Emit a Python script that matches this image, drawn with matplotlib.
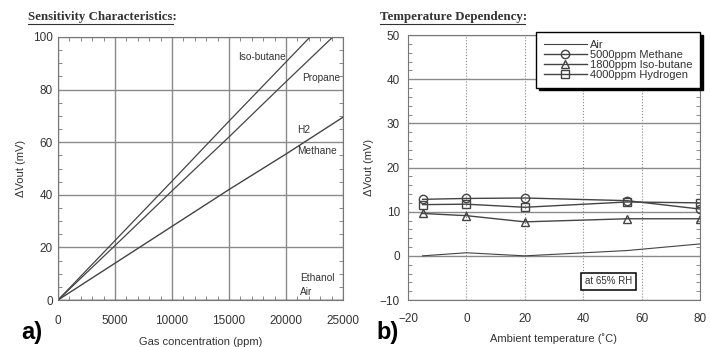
"""
Sensitivity characteristics and temperature dependency of the gas sensor.
Saves out.png
"""

import matplotlib
matplotlib.use("Agg")
import matplotlib.pyplot as plt
from matplotlib.lines import Line2D
from matplotlib.ticker import MultipleLocator

plt.rcParams['font.family'] = ['Liberation Sans', 'DejaVu Sans']

# a) sensitivity vs gas concentration
conc = [0, 5000, 10000, 15000, 20000, 25000]                 # ppm
isobutane = [0, 22.6, 45.2, 68.0, 90.5, 113.0]               # mV
propane = [0, 20.7, 41.5, 62.0, 83.0, 103.7]
methane = [0, 14.0, 28.0, 42.0, 55.5, 69.5]
ethanol = [0, 0, 0, 0, 0, 0]

# b) temperature dependency at 65% RH
temp = [-15, 0, 20, 55, 80]                                   # deg C
air = [0.0, 0.7, 0.0, 1.2, 2.7]
meth5000 = [12.8, 13.0, 13.1, 12.5, 10.6]
iso1800 = [9.6, 9.1, 7.7, 8.4, 8.4]
hyd4000 = [11.6, 11.7, 11.0, 12.2, 12.0]

lc = "#444444"        # line colour
gc = "#8a8a8a"        # grid colour
tc = "#333333"        # text colour

fig = plt.figure(figsize=(7.1, 3.47), dpi=100)

# ---------------- left panel
ax1 = fig.add_axes([0.0817, 0.1354, 0.4014, 0.758])
ax1.plot(conc, isobutane, c=lc, lw=0.9)
ax1.plot(conc, propane, c=lc, lw=0.9)
ax1.plot(conc, methane, c=lc, lw=1.0)
ax1.plot(conc, ethanol, c=lc, lw=1.0)
ax1.set_xlim(0, 25000)
ax1.set_ylim(0, 100)
ax1.xaxis.set_major_locator(MultipleLocator(5000))
ax1.xaxis.set_minor_locator(MultipleLocator(1000))
ax1.yaxis.set_major_locator(MultipleLocator(20))
ax1.yaxis.set_minor_locator(MultipleLocator(5))
ax1.grid(which="major", color=gc, lw=1.0)
ax1.tick_params(axis="x", which="major", pad=11)
ax1.tick_params(axis="y", which="major", pad=3.6)
ax1.set_xlabel("Gas concentration (ppm)", fontsize=8, color=tc, labelpad=7)
ax1.set_ylabel("ΔVout (mV)", fontsize=8, color=tc, labelpad=5)

for txt, x, y in [("Iso-butane", 15800, 92.5), ("Propane", 21400, 84.5),
                  ("H2", 21000, 64.5), ("Methane", 21000, 56.5),
                  ("Ethanol", 21200, 8.5), ("Air", 21200, 3.2)]:
    ax1.text(x, y, txt, fontsize=7.3, color=tc, va="center", ha="left")

# ---------------- right panel
ax2 = fig.add_axes([0.5746, 0.1354, 0.4113, 0.7636])
ax2.plot(temp, air, c=lc, lw=0.8, label="Air")
ax2.plot(temp, meth5000, c=lc, lw=1.0, marker="o", ms=6, mfc="none", mec=lc, label="5000ppm Methane")
ax2.plot(temp, iso1800, c=lc, lw=1.0, marker="^", ms=6, mfc="none", mec=lc, label="1800ppm Iso-butane")
ax2.plot(temp, hyd4000, c=lc, lw=1.0, marker="s", ms=5.5, mfc="none", mec=lc, label="4000ppm Hydrogen")
ax2.set_xlim(-20, 80)
ax2.set_ylim(-10, 50)
ax2.xaxis.set_major_locator(MultipleLocator(20))
ax2.yaxis.set_major_locator(MultipleLocator(10))
ax2.yaxis.set_minor_locator(MultipleLocator(2))
ax2.grid(axis="y", which="major", color=gc, lw=1.0)
ax2.grid(axis="x", which="major", color=gc, lw=0.8, linestyle=":")
ax2.tick_params(axis="x", which="major", pad=9.5)
ax2.tick_params(axis="y", which="major", pad=5.8)
ax2.set_xlabel("Ambient temperature (˚C)", fontsize=8, color=tc, labelpad=6)
ax2.set_ylabel("ΔVout (mV)", fontsize=8, color=tc, labelpad=4)

leg = ax2.legend(loc="upper right", bbox_to_anchor=(1.0, 1.011), borderaxespad=0,
                 fontsize=8, handlelength=3.9, handletextpad=0.25, labelspacing=0,
                 borderpad=0.7, fancybox=False, framealpha=1, edgecolor="black",
                 shadow={"facecolor": "black", "edgecolor": "black", "alpha": 1})
leg.get_frame().set_linewidth(1.0)
for t in leg.get_texts():
    t.set_color(tc)

ax2.text(48.6, -5.8, "at 65% RH", fontsize=7, ha="center", va="center", color=tc,
         bbox=dict(boxstyle="square,pad=0.4", fc="white", ec="black", lw=1.1))

for ax in (ax1, ax2):
    ax.tick_params(which="both", direction="in", top=True, right=True, colors="#777777",
                   labelcolor=tc, labelsize=8.5)
    ax.tick_params(which="major", length=0)
    ax.tick_params(which="minor", length=3)
    for s in ax.spines.values():
        s.set_color("#777777")

# titles (underlined) and panel letters
fig.text(28 / 710, 1 - 17 / 347, "Sensitivity Characteristics:", family="Liberation Serif",
         fontsize=9.3, fontweight="bold", color=tc, va="center")
fig.text(380 / 710, 1 - 17 / 347, "Temperature Dependency:", family="Liberation Serif",
         fontsize=9.3, fontweight="bold", color=tc, va="center")
fig.add_artist(Line2D([28 / 710, 173 / 710], [1 - 23.5 / 347] * 2, color=tc, lw=0.8))
fig.add_artist(Line2D([380 / 710, 525 / 710], [1 - 23.5 / 347] * 2, color=tc, lw=0.8))

fig.text(21 / 710, 1 - 332 / 347, "a)", fontsize=17, fontweight="bold", va="center")
fig.text(376 / 710, 1 - 332 / 347, "b)", fontsize=17, fontweight="bold", va="center")

fig.savefig("out.png", dpi=100)
